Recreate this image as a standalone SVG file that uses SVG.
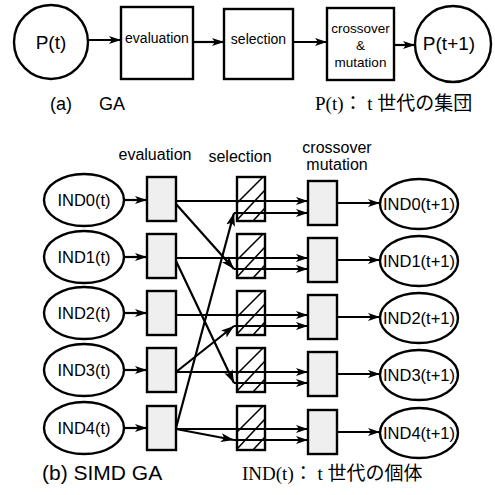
<svg xmlns="http://www.w3.org/2000/svg" width="495" height="495" viewBox="0 0 495 495">
<style>
.ln{stroke:#000;stroke-width:2.2;fill:none}
.sh{stroke:#000;stroke-width:2.4;fill:#fff}
.bx{stroke:#000;stroke-width:2.4;fill:#fff}
.gb{stroke:#000;stroke-width:2.4;fill:#efefef}
.t{font-family:"Liberation Sans",Arial,sans-serif;fill:#000}
.s{font-family:"Liberation Serif","Noto Sans CJK JP",serif;fill:#000}
.c{text-anchor:middle}
.h{stroke:#000;stroke-width:1.6}
</style>
<defs>
<marker id="ah" viewBox="0 0 12 8" refX="12" refY="4" markerWidth="12" markerHeight="8" markerUnits="userSpaceOnUse" orient="auto">
<path d="M0,0 L12,4 L0,8 L3,4 z" fill="#000"/>
</marker>
<marker id="ab" viewBox="0 0 13 9" refX="13" refY="4.5" markerWidth="13" markerHeight="9" markerUnits="userSpaceOnUse" orient="auto">
<path d="M0,0 L13,4.5 L0,9 L3,4.5 z" fill="#000"/>
</marker>
<g id="sel">
<rect class="bx" x="0" y="0" width="28" height="44"/>
<line class="h" x1="0" y1="26" x2="26" y2="0"/>
<line class="h" x1="0" y1="43" x2="28" y2="13"/>
<line class="h" x1="16" y1="44" x2="28" y2="31"/>
</g>
</defs>

<!-- (a) GA -->
<g id="a-pt">
<circle class="sh" cx="51" cy="42" r="37"/>
<text class="t c" x="51" y="49" font-size="19">P(t)</text>
</g>
<g id="a-eval">
<rect class="bx" x="121" y="7" width="72" height="72"/>
<text class="t c" x="157" y="43" font-size="14">evaluation</text>
</g>
<g id="a-sel">
<rect class="bx" x="224" y="9" width="69" height="70"/>
<text class="t c" x="258.5" y="44" font-size="14">selection</text>
</g>
<g id="a-cm">
<rect class="bx" x="327" y="8" width="67" height="72"/>
<text class="t c" x="360.5" y="33" font-size="13.5">crossover</text>
<text class="t c" x="360.5" y="50" font-size="13.5">&amp;</text>
<text class="t c" x="360.5" y="67" font-size="13.5">mutation</text>
</g>
<g id="a-pt1">
<circle class="sh" cx="453" cy="44" r="38"/>
<text class="t c" x="449" y="50" font-size="19">P(t+1)</text>
</g>
<g id="a-conn">
<line class="ln" x1="88" y1="40" x2="121" y2="40" marker-end="url(#ah)"/>
<line class="ln" x1="193" y1="42" x2="224" y2="42" marker-end="url(#ah)"/>
<line class="ln" x1="293" y1="42" x2="327" y2="42" marker-end="url(#ah)"/>
<line class="ln" x1="394" y1="45" x2="415" y2="45" marker-end="url(#ah)"/>
</g>
<text class="t" x="50" y="110" font-size="18">(a)</text>
<text class="t" x="99" y="110" font-size="18">GA</text>
<text class="s" x="315" y="110" font-size="19">P(t)： t 世代の集団</text>

<!-- (b) SIMD GA -->
<text class="t c" x="155" y="160" font-size="16">evaluation</text>
<text class="t c" x="240" y="162" font-size="16">selection</text>
<text class="t c" x="337" y="153" font-size="16">crossover</text>
<text class="t c" x="337" y="170" font-size="16">mutation</text>

<g id="ind0"><ellipse class="sh" cx="84" cy="200" rx="40" ry="26"/><text class="t c" x="84" y="206" font-size="16.5">IND0(t)</text></g>
<g id="ind1"><ellipse class="sh" cx="84" cy="257" rx="40" ry="26"/><text class="t c" x="84" y="263" font-size="16.5">IND1(t)</text></g>
<g id="ind2"><ellipse class="sh" cx="84" cy="313" rx="40" ry="26"/><text class="t c" x="84" y="319" font-size="16.5">IND2(t)</text></g>
<g id="ind3"><ellipse class="sh" cx="84" cy="370" rx="40" ry="26"/><text class="t c" x="84" y="376" font-size="16.5">IND3(t)</text></g>
<g id="ind4"><ellipse class="sh" cx="84" cy="428" rx="40" ry="26"/><text class="t c" x="84" y="434" font-size="16.5">IND4(t)</text></g>

<g id="ev0"><rect class="gb" x="147" y="177" width="29" height="44"/></g>
<g id="ev1"><rect class="gb" x="147" y="234" width="29" height="44"/></g>
<g id="ev2"><rect class="gb" x="147" y="291" width="29" height="44"/></g>
<g id="ev3"><rect class="gb" x="147" y="348" width="29" height="44"/></g>
<g id="ev4"><rect class="gb" x="147" y="406" width="29" height="44"/></g>

<g id="se0"><use href="#sel" x="237" y="177"/></g>
<g id="se1"><use href="#sel" x="237" y="234"/></g>
<g id="se2"><use href="#sel" x="237" y="291"/></g>
<g id="se3"><use href="#sel" x="237" y="348"/></g>
<g id="se4"><use href="#sel" x="237" y="406"/></g>

<g id="cm0"><rect class="gb" x="308" y="181" width="29" height="44"/></g>
<g id="cm1"><rect class="gb" x="308" y="238" width="29" height="44"/></g>
<g id="cm2"><rect class="gb" x="308" y="295" width="29" height="44"/></g>
<g id="cm3"><rect class="gb" x="308" y="352" width="29" height="44"/></g>
<g id="cm4"><rect class="gb" x="308" y="410" width="29" height="44"/></g>

<g id="out0"><ellipse class="sh" cx="419" cy="204" rx="39" ry="25"/><text class="t c" x="419" y="210" font-size="16.5">IND0(t+1)</text></g>
<g id="out1"><ellipse class="sh" cx="419" cy="261" rx="39" ry="25"/><text class="t c" x="419" y="267" font-size="16.5">IND1(t+1)</text></g>
<g id="out2"><ellipse class="sh" cx="419" cy="318" rx="39" ry="25"/><text class="t c" x="419" y="324" font-size="16.5">IND2(t+1)</text></g>
<g id="out3"><ellipse class="sh" cx="419" cy="375" rx="39" ry="25"/><text class="t c" x="419" y="381" font-size="16.5">IND3(t+1)</text></g>
<g id="out4"><ellipse class="sh" cx="419" cy="433" rx="39" ry="25"/><text class="t c" x="419" y="439" font-size="16.5">IND4(t+1)</text></g>

<g id="b-conn">
<line class="ln" x1="124" y1="200" x2="147" y2="200" marker-end="url(#ah)"/>
<line class="ln" x1="124" y1="257" x2="147" y2="257" marker-end="url(#ah)"/>
<line class="ln" x1="124" y1="313" x2="147" y2="313" marker-end="url(#ah)"/>
<line class="ln" x1="124" y1="370" x2="147" y2="370" marker-end="url(#ah)"/>
<line class="ln" x1="124" y1="428" x2="147" y2="428" marker-end="url(#ah)"/>

<line class="ln" x1="176" y1="201" x2="308" y2="201" marker-end="url(#ah)"/>
<line class="ln" x1="176" y1="258" x2="308" y2="258" marker-end="url(#ah)"/>
<line class="ln" x1="176" y1="315" x2="308" y2="315" marker-end="url(#ah)"/>
<line class="ln" x1="176" y1="372" x2="308" y2="372" marker-end="url(#ah)"/>
<line class="ln" x1="176" y1="429" x2="308" y2="429" marker-end="url(#ah)"/>

<line class="ln" x1="234" y1="213" x2="308" y2="213" marker-end="url(#ah)"/>
<line class="ln" x1="234" y1="269" x2="308" y2="269" marker-end="url(#ah)"/>
<line class="ln" x1="234" y1="326" x2="308" y2="326" marker-end="url(#ah)"/>
<line class="ln" x1="234" y1="383" x2="308" y2="383" marker-end="url(#ah)"/>
<line class="ln" x1="234" y1="440" x2="308" y2="440" marker-end="url(#ah)"/>

<line class="ln" x1="176" y1="204" x2="234" y2="269" marker-end="url(#ab)"/>
<line class="ln" x1="176" y1="261" x2="234" y2="383" marker-end="url(#ab)"/>
<line class="ln" x1="176" y1="372" x2="234" y2="326" marker-end="url(#ab)"/>
<line class="ln" x1="176" y1="428" x2="234" y2="213" marker-end="url(#ab)"/>
<line class="ln" x1="176" y1="429" x2="234" y2="440" marker-end="url(#ab)"/>

<line class="ln" x1="337" y1="203" x2="380" y2="203" marker-end="url(#ah)"/>
<line class="ln" x1="337" y1="260" x2="380" y2="260" marker-end="url(#ah)"/>
<line class="ln" x1="337" y1="317" x2="380" y2="317" marker-end="url(#ah)"/>
<line class="ln" x1="337" y1="374" x2="380" y2="374" marker-end="url(#ah)"/>
<line class="ln" x1="337" y1="432" x2="380" y2="432" marker-end="url(#ah)"/>
</g>

<text class="t" x="42" y="480" font-size="21">(b) SIMD GA</text>
<text class="s" x="242" y="480" font-size="19">IND(t)： t 世代の個体</text>
</svg>
